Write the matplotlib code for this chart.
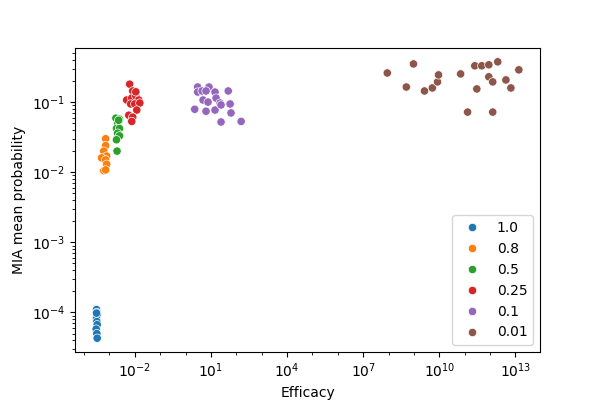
import matplotlib
matplotlib.use("Agg")
import matplotlib.pyplot as plt
import matplotlib.ticker as mticker
import seaborn as sns
import pandas as pd

labels = ["1.0", "0.8", "0.5", "0.25", "0.1", "0.01"]

x_10 = [3.1e-4, 3.2e-4, 3.3e-4, 3.1e-4, 3.2e-4, 3.3e-4, 3.0e-4, 3.2e-4, 3.3e-4, 3.1e-4]
y_10 = [1.1e-4, 1.0e-4, 9.3e-5, 8.2e-5, 7.4e-5, 6.7e-5, 5.8e-5, 5.0e-5, 4.3e-5, 9.8e-5]

x_08 = [7.1e-4, 7.1e-4, 6.0e-4, 7.8e-4, 4.9e-4, 7.1e-4, 7.8e-4, 6.0e-4, 7.1e-4]
y_08 = [0.030, 0.024, 0.020, 0.017, 0.016, 0.015, 0.013, 0.0105, 0.0108]

x_05 = [1.8e-3, 2.5e-3, 2.1e-3, 1.9e-3, 2.5e-3, 2.1e-3, 2.5e-3, 1.9e-3, 2.0e-3, 2.3e-3]
y_05 = [0.059, 0.057, 0.050, 0.042, 0.042, 0.036, 0.033, 0.029, 0.020, 0.055]

x_025 = [6.3e-3, 8.3e-3, 4.8e-3, 7.6e-3, 0.011, 0.0144, 6.9e-3, 0.010, 0.0158, 0.012,
         5.8e-3, 8.3e-3, 7.6e-3, 0.011]
y_025 = [0.18, 0.144, 0.107, 0.114, 0.122, 0.107, 0.094, 0.094, 0.097, 0.077,
         0.065, 0.061, 0.053, 0.14]

x_01 = [3.0, 8.4, 3.0, 4.5, 6.4, 14.5, 48, 16, 4.9, 7.7, 23, 57, 2.3, 6.4, 14.5, 25, 62, 25, 155]
y_01 = [0.164, 0.164, 0.139, 0.144, 0.144, 0.139, 0.144, 0.114, 0.107, 0.10, 0.097, 0.094,
        0.079, 0.074, 0.077, 0.091, 0.070, 0.052, 0.053]

x_001 = [8.9e7, 9.6e8, 5.0e8, 2.6e9, 5.3e9, 8.5e9, 9.3e9, 6.9e10, 1.3e11, 2.5e11,
         3.0e11, 4.7e11, 8.9e11, 8.9e11, 1.27e12, 1.27e12, 2.0e12, 4.2e12, 6.6e12, 1.36e13]
y_001 = [0.26, 0.35, 0.164, 0.144, 0.159, 0.194, 0.244, 0.252, 0.072, 0.329,
         0.154, 0.329, 0.34, 0.229, 0.194, 0.072, 0.375, 0.207, 0.159, 0.288]

xs = [x_10, x_08, x_05, x_025, x_01, x_001]
ys = [y_10, y_08, y_05, y_025, y_01, y_001]

x_ticks = [1e-2, 1e1, 1e4, 1e7, 1e10, 1e13]

rows = []
for lab, xv, yv in zip(labels, xs, ys):
    for a, b in zip(xv, yv):
        rows.append({"Efficacy": a, "MIA": b, "grp": lab})
df = pd.DataFrame(rows)

fig, ax = plt.subplots(figsize=(6, 4), dpi=100)
fig.subplots_adjust(left=0.125, right=0.9, top=0.88, bottom=0.12)
sns.scatterplot(data=df, x="Efficacy", y="MIA", hue="grp", hue_order=labels, ax=ax)
ax.set_xscale("log")
ax.set_yscale("log")
ax.xaxis.set_major_locator(mticker.FixedLocator(x_ticks))
ax.xaxis.set_major_formatter(mticker.LogFormatterSciNotation())
ax.xaxis.set_minor_locator(mticker.LogLocator(base=10, subs=(1.0,), numticks=40))
ax.xaxis.set_minor_formatter(mticker.NullFormatter())
ax.set_xlabel("Efficacy")
ax.set_ylabel("MIA mean probability")
ax.legend(loc="lower right")
fig.savefig("out.png", dpi=100)
